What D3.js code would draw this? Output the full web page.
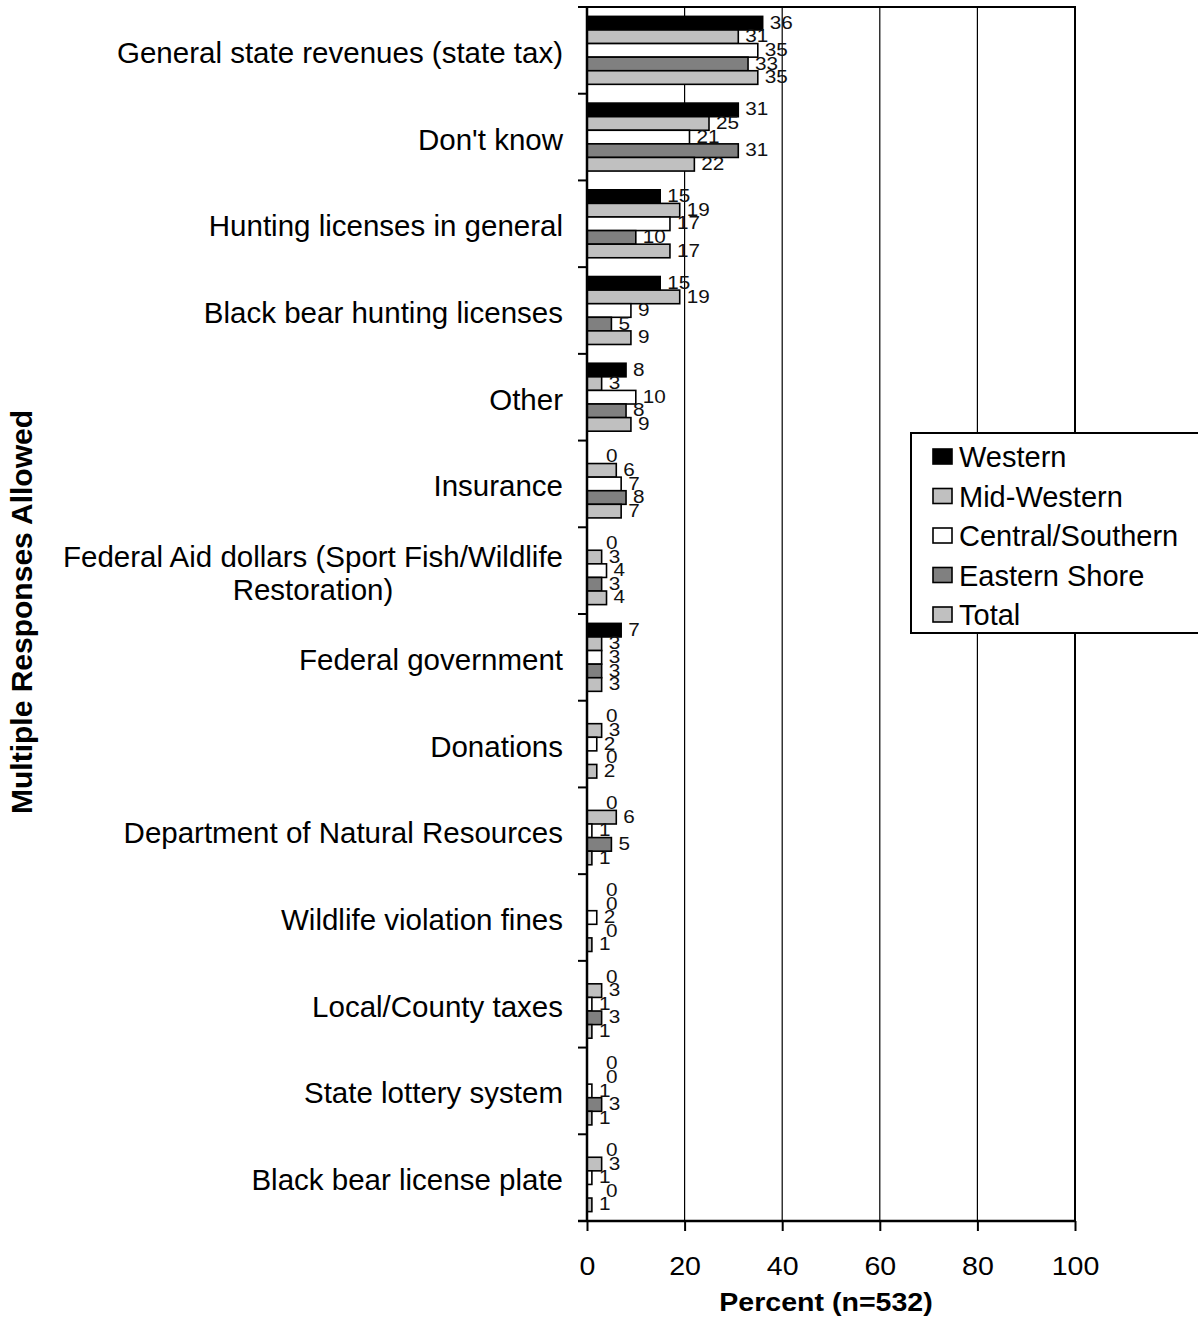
<!DOCTYPE html>
<html>
<head>
<meta charset="utf-8">
<script src="https://cdn.jsdelivr.net/npm/d3@7"></script>
<style>
  body { margin: 0; background: #fff; }
  svg { display: block; font-family: "Liberation Sans", Arial, sans-serif; }
</style>
</head>
<body>
<svg class="chart" width="1198" height="1328"></svg>
<script>
// Chart values, top category first
var categories = [
    "General state revenues (state tax)",
    "Don't know",
    "Hunting licenses in general",
    "Black bear hunting licenses",
    "Other",
    "Insurance",
    "Federal Aid dollars (Sport Fish/Wildlife\nRestoration)",
    "Federal government",
    "Donations",
    "Department of Natural Resources",
    "Wildlife violation fines",
    "Local/County taxes",
    "State lottery system",
    "Black bear license plate"
];
var seriesNames = ["Western", "Mid-Western", "Central/Southern", "Eastern Shore", "Total"];
var western         = [36, 31, 15, 15, 8, 0, 0, 7, 0, 0, 0, 0, 0, 0];
var midWestern      = [31, 25, 19, 19, 3, 6, 3, 3, 3, 6, 0, 3, 0, 3];
var centralSouthern = [35, 21, 17, 9, 10, 7, 4, 3, 2, 1, 2, 1, 1, 1];
var easternShore    = [33, 31, 10, 5, 8, 8, 3, 3, 0, 5, 0, 3, 3, 0];
var total           = [35, 22, 17, 9, 9, 7, 4, 3, 2, 1, 1, 1, 1, 1];
var xTicks = [0, 20, 40, 60, 80, 100];

var seriesValues = [western, midWestern, centralSouthern, easternShore, total];
var seriesColors = ["#000000", "#c0c0c0", "#ffffff", "#808080", "#c0c0c0"];

var plotLeft = 587, plotRight = 1075, plotTop = 7, plotBottom = 1221;

var svg = d3.select("svg.chart");

var x = d3.scaleLinear().domain([0, 100]).range([plotLeft, plotRight]);
var y = d3.scaleBand().domain(categories).range([plotTop, plotBottom]).paddingInner(0).paddingOuter(0);
var ySub = d3.scaleBand().domain(seriesNames).range([0, y.bandwidth()]).paddingInner(0).paddingOuter(0.69);
var color = d3.scaleOrdinal().domain(seriesNames).range(seriesColors);

// gridlines
svg.append("g").selectAll("line")
    .data(xTicks.filter(d => d > 0 && d < 100))
    .join("line")
    .attr("x1", d => x(d)).attr("x2", d => x(d))
    .attr("y1", plotTop).attr("y2", plotBottom)
    .attr("stroke", "#000").attr("stroke-width", 1.2);

// plot border (top + right)
svg.append("path")
    .attr("d", "M" + plotLeft + "," + plotTop + "H" + plotRight + "V" + plotBottom)
    .attr("fill", "none").attr("stroke", "#000").attr("stroke-width", 2);

// bars
var rows = [];
categories.forEach(function (c, i) {
    seriesNames.forEach(function (s, j) {
        rows.push({ cat: c, series: s, value: seriesValues[j][i] });
    });
});

svg.append("g").selectAll("rect")
    .data(rows)
    .join("rect")
    .attr("x", x(0))
    .attr("y", d => y(d.cat) + ySub(d.series))
    .attr("width", d => x(d.value) - x(0))
    .attr("height", ySub.bandwidth())
    .attr("fill", d => color(d.series))
    .attr("stroke", "#000")
    .attr("stroke-width", 1.6);

// data labels
svg.append("g").selectAll("text")
    .data(rows)
    .join("text")
    .attr("transform", function (d) {
        var px = x(d.value) + (d.value === 0 ? 19 : 7);
        var py = y(d.cat) + ySub(d.series) + ySub.bandwidth() / 2 - 1;
        return "translate(" + px + "," + py + ") scale(1.12,1)";
    })
    .attr("dominant-baseline", "central")
    .attr("font-size", 18.5)
    .attr("fill", "#111")
    .text(d => d.value);

// y axis line and boundary ticks
svg.append("line")
    .attr("x1", plotLeft).attr("x2", plotLeft).attr("y1", plotTop).attr("y2", plotBottom)
    .attr("stroke", "#000").attr("stroke-width", 2.5);
var bounds = categories.map(c => y(c)).concat([plotBottom]);
svg.append("g").selectAll("line")
    .data(bounds)
    .join("line")
    .attr("x1", plotLeft - 9).attr("x2", plotLeft)
    .attr("y1", d => d).attr("y2", d => d)
    .attr("stroke", "#000").attr("stroke-width", 2);

// category labels
var catG = svg.append("g").attr("font-size", 29.5).attr("fill", "#000");
categories.forEach(function (c) {
    var lines = c.split("\n");
    var cy = y(c) + y.bandwidth() / 2 + 2;
    if (lines.length === 1) {
        catG.append("text")
            .attr("x", plotLeft - 24).attr("y", cy)
            .attr("text-anchor", "end")
            .attr("dominant-baseline", "central")
            .text(c);
    } else {
        var first = catG.append("text")
            .attr("x", plotLeft - 24).attr("y", cy - 16.5)
            .attr("text-anchor", "end")
            .attr("dominant-baseline", "central")
            .text(lines[0]);
        var w = first.node().getComputedTextLength();
        catG.append("text")
            .attr("x", plotLeft - 24 - w / 2).attr("y", cy + 16.5)
            .attr("text-anchor", "middle")
            .attr("dominant-baseline", "central")
            .text(lines[1]);
    }
});

// x axis
var xAxis = svg.append("g")
    .attr("transform", "translate(0," + plotBottom + ")")
    .call(d3.axisBottom(x).tickValues(xTicks).tickSize(10).tickSizeOuter(0).tickPadding(0));
xAxis.select(".domain").attr("stroke-width", 2.5).attr("d", "M" + (plotLeft - 9) + ",0H" + plotRight);
xAxis.selectAll(".tick line").attr("stroke-width", 2);
xAxis.selectAll(".tick text")
    .attr("font-size", 25.5)
    .attr("font-family", "Liberation Sans, Arial, sans-serif")
    .attr("fill", "#000")
    .attr("y", 54)
    .attr("dy", null)
    .attr("transform", "scale(1.12,1)");

// axis titles
svg.append("text")
    .attr("transform", "translate(826,1311) scale(1.12,1)")
    .attr("text-anchor", "middle")
    .attr("font-size", 25.5)
    .attr("font-weight", "bold")
    .text("Percent (n=532)");

svg.append("text")
    .attr("transform", "translate(32,612) rotate(-90)")
    .attr("text-anchor", "middle")
    .attr("font-size", 30)
    .attr("font-weight", "bold")
    .text("Multiple Responses Allowed");

// legend
var legend = svg.append("g").attr("transform", "translate(911,433)");
legend.append("rect")
    .attr("width", 300).attr("height", 200)
    .attr("fill", "#fff").attr("stroke", "#000").attr("stroke-width", 2);
var item = legend.selectAll("g.item")
    .data(seriesNames)
    .join("g")
    .attr("class", "item")
    .attr("transform", (d, i) => "translate(0," + (23 + i * 39.5) + ")");
item.append("rect")
    .attr("x", 22).attr("y", -7)
    .attr("width", 19).attr("height", 15)
    .attr("fill", d => color(d))
    .attr("stroke", "#000").attr("stroke-width", 1.6);
item.append("text")
    .attr("x", 48).attr("y", 1)
    .attr("dominant-baseline", "central")
    .attr("font-size", 29)
    .text(d => d);
</script>
</body>
</html>
